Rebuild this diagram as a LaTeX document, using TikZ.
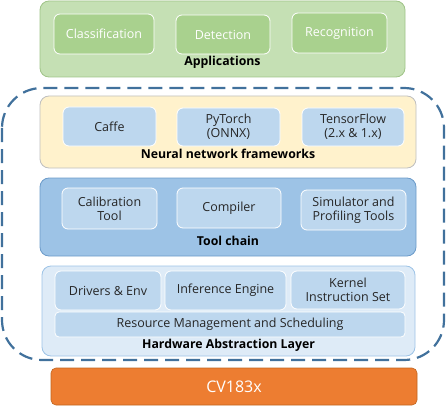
\documentclass[tikz,border=0pt]{standalone}
\usepackage{fontspec}
\setmainfont{Open Sans}
\tikzset{
	layer/.style={draw, rounded corners=9pt, line width=0.8pt},
	item/.style={draw=white, line width=0.8pt, rounded corners=6pt, align=center, font=\fontsize{12.5}{14}\selectfont, text=black!85},
	caption/.style={font=\fontsize{12.3}{14}\selectfont\bfseries, text=black}
}
\definecolor{appback}{HTML}{C5E0B4}
\definecolor{appedge}{HTML}{A0C488}
\definecolor{appitem}{HTML}{A9D18E}
\definecolor{nnback}{HTML}{FFF2CC}
\definecolor{nnedge}{HTML}{BFBFBF}
\definecolor{blueitem}{HTML}{BDD7EE}
\definecolor{toolback}{HTML}{9DC3E6}
\definecolor{tooledge}{HTML}{6C9BC9}
\definecolor{halback}{HTML}{DEEBF7}
\definecolor{haledge}{HTML}{9DC3E6}
\definecolor{chip}{HTML}{ED7D31}
\definecolor{chipedge}{HTML}{C0651F}
\definecolor{dashblue}{HTML}{41719C}
\begin{document}
\begin{tikzpicture}[x=1pt, y=-1pt]
	\useasboundingbox (0,0) rectangle (446,406);

	% applications
	\node [layer, draw=appedge, fill=appback, minimum width=365pt, minimum height=76pt] (apps) at (222.5,39) {};
	\node [item, fill=appitem, text=white, minimum width=100pt, minimum height=40pt] (cls) at (104,34) {Classification};
	\node [item, fill=appitem, text=white, minimum width=94pt, minimum height=39pt] (det) at (223,34.5) {Detection};
	\node [item, fill=appitem, text=white, minimum width=95pt, minimum height=40pt] (rec) at (339.5,33) {Recognition};
	\node [caption] (appslabel) at (222.5,62) {Applications};

	% software stack
	\draw [dashblue, line width=2.2pt, dash pattern=on 14pt off 7pt, rounded corners=40pt] (2,88) rectangle (444,360);

	% neural network frameworks
	\node [layer, draw=nnedge, fill=nnback, minimum width=376pt, minimum height=72pt] (nn) at (228,132) {};
	\node [item, fill=blueitem, minimum width=93pt, minimum height=39pt] (caffe) at (109.5,126.5) {Caffe};
	\node [item, fill=blueitem, minimum width=103pt, minimum height=38pt] (torch) at (228.5,127) {PyTorch\\(ONNX)};
	\node [item, fill=blueitem, minimum width=102pt, minimum height=38pt] (tf) at (353,127) {TensorFlow\\(2.x \& 1.x)};
	\node [caption] (nnlabel) at (228,154) {Neural network frameworks};

	% tool chain
	\node [layer, draw=tooledge, fill=toolback, minimum width=376pt, minimum height=78pt] (tools) at (228,217) {};
	\node [item, fill=blueitem, minimum width=95pt, minimum height=41pt] (calib) at (109.5,208.5) {Calibration\\Tool};
	\node [item, fill=blueitem, minimum width=104pt, minimum height=40pt] (comp) at (229,208) {Compiler};
	\node [item, fill=blueitem, minimum width=105pt, minimum height=40pt] (sim) at (353.5,210) {Simulator and\\Profiling Tools};
	\node [caption] (toolslabel) at (228,241) {Tool chain};

	% hardware abstraction layer
	\node [layer, draw=haledge, fill=halback, minimum width=373pt, minimum height=90pt] (hal) at (228.5,311) {};
	\node [item, fill=blueitem, minimum width=106pt, minimum height=39pt] (drv) at (108,290.5) {Drivers \& Env};
	\node [item, fill=blueitem, minimum width=121pt, minimum height=39pt] (inf) at (225.5,290.5) {Inference Engine};
	\node [item, fill=blueitem, minimum width=114pt, minimum height=38pt] (kern) at (348,290) {Kernel\\Instruction Set};
	\node [item, fill=blueitem, rounded corners=4pt, minimum width=350pt, minimum height=25pt] (res) at (230,324.5) {Resource Management and Scheduling};
	\node [caption] (hallabel) at (228.5,345) {Hardware Abstraction Layer};

	% chip
	\node [draw=chipedge, fill=chip, rounded corners=5pt, line width=0.6pt, text=white, font=\fontsize{16}{19}\selectfont, minimum width=366pt, minimum height=37pt] (cv) at (234,386.5) {CV183x};
\end{tikzpicture}
\end{document}
